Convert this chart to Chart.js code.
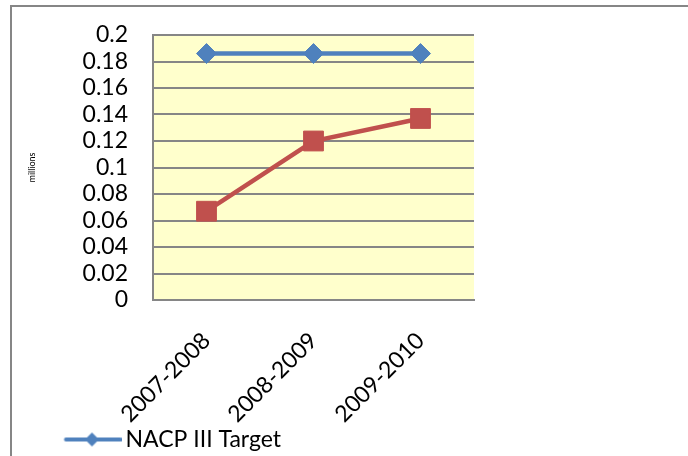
<!DOCTYPE html>
<html>
<head>
<meta charset="utf-8">
<script src="https://cdn.jsdelivr.net/npm/chart.js@4"></script>
<style>
  html, body { margin: 0; padding: 0; background: #fff; overflow: hidden; }
  #wrap { position: relative; width: 688px; height: 456px; overflow: hidden; }
  #frame { position: absolute; left: 10px; top: 5px; width: 700px; height: 520px;
           border-left: 2px solid #868686; border-top: 2px solid #868686; }
  #chart { position: absolute; left: 0; top: 0; }
</style>
</head>
<body>
<div id="wrap">
  <div id="frame"></div>
  <canvas id="chart" width="688" height="489"></canvas>
</div>
<script>
// Data
const categories = ['2007-2008', '2008-2009', '2009-2010'];
const targetValues = [0.186, 0.186, 0.186];
const achievedValues = [0.067, 0.120, 0.137];
const yTickLabels = ['0', '0.02', '0.04', '0.06', '0.08', '0.1', '0.12', '0.14', '0.16', '0.18', '0.2'];
const seriesNames = ['NACP III Target', 'Achievement'];

const BLUE = '#4F81BD';
const RED = '#C0504D';
const GRID = '#868686';
const FONT = 'Lato, "Open Sans", sans-serif';

// legend swatch: line with marker, like the office legend
// item starts at x=17, box width 97 -> centre 65.5; line runs 66..121 on the page
function makeSwatch(color, marker) {
    const c = document.createElement('canvas');
    c.width = 112;
    c.height = 16;
    const g = c.getContext('2d');
    const off = 65.5 - 56; // page x = image x + off
    g.strokeStyle = color;
    g.lineWidth = 4;
    g.lineCap = 'round';
    g.beginPath();
    g.moveTo(66 - off, 8);
    g.lineTo(120 - off, 8);
    g.stroke();
    g.fillStyle = color;
    const cx = 92 - off, cy = 8;
    g.beginPath();
    if (marker === 'diamond') {
        g.moveTo(cx - 7, cy); g.lineTo(cx, cy - 7); g.lineTo(cx + 7, cy); g.lineTo(cx, cy + 7);
    } else {
        g.rect(cx - 6, cy - 6, 12, 12);
    }
    g.closePath();
    g.fill();
    return c;
}
const swatches = [makeSwatch(BLUE, 'diamond'), makeSwatch(RED, 'square')];

// yellow plot background
const plotBackground = {
    id: 'plotBackground',
    beforeDraw(chart) {
        const { ctx, chartArea } = chart;
        ctx.save();
        ctx.fillStyle = '#FFFFCC';
        ctx.fillRect(chartArea.left, chartArea.top, chartArea.right - chartArea.left, chartArea.bottom - chartArea.top);
        ctx.restore();
    }
};

new Chart(document.getElementById('chart'), {
    type: 'line',
    data: {
        labels: categories,
        datasets: [{
            label: seriesNames[0],
            data: targetValues,
            borderColor: BLUE,
            backgroundColor: BLUE,
            borderWidth: 4.5,
            pointStyle: 'rectRot',
            pointRadius: 10,
            pointBorderWidth: 1,
            fill: false
        }, {
            label: seriesNames[1],
            data: achievedValues,
            borderColor: RED,
            backgroundColor: RED,
            borderWidth: 4.5,
            pointStyle: 'rect',
            pointRadius: 14,
            pointBorderWidth: 1,
            fill: false
        }]
    },
    options: {
        responsive: false,
        animation: false,
        layout: { padding: { left: 12, top: 35, right: 214, bottom: 0 } },
        scales: {
            x: {
                offset: true,
                grid: { display: false, drawTicks: false },
                border: { display: true, color: GRID, width: 2 },
                ticks: {
                    color: '#000',
                    font: { family: FONT, size: 23 },
                    minRotation: 45,
                    maxRotation: 45,
                    autoSkip: false,
                    padding: 27,
                    labelOffset: 0
                },
                afterFit(scale) { scale.height = 123; }
            },
            y: {
                min: 0,
                max: 0.2,
                ticks: {
                    stepSize: 0.02,
                    autoSkip: false,
                    color: '#000',
                    font: { family: FONT, size: 23 },
                    padding: 25,
                    callback: (v, i) => yTickLabels[i]
                },
                grid: { color: GRID, lineWidth: 2, drawTicks: false },
                border: { display: true, color: GRID, width: 2 },
                title: {
                    display: true,
                    text: 'millions',
                    color: '#000',
                    font: { family: FONT, size: 9 },
                    padding: { top: 15, bottom: 0 }
                },
                afterFit(scale) {
                    scale.width = 141;
                    // tick padding would otherwise push the plot top down
                    scale.paddingTop = 0;
                    scale.paddingBottom = 0;
                }
            }
        },
        plugins: {
            legend: {
                position: 'bottom',
                align: 'start',
                labels: {
                    color: '#000',
                    font: { family: FONT, size: 23 },
                    usePointStyle: true,
                    pointStyleWidth: 97,
                    padding: 5,
                    generateLabels(chart) {
                        const items = Chart.defaults.plugins.legend.labels.generateLabels(chart);
                        items.forEach((it, i) => { it.pointStyle = swatches[i]; });
                        return items;
                    }
                }
            },
            tooltip: { enabled: false }
        }
    },
    plugins: [plotBackground]
});
</script>
</body>
</html>
